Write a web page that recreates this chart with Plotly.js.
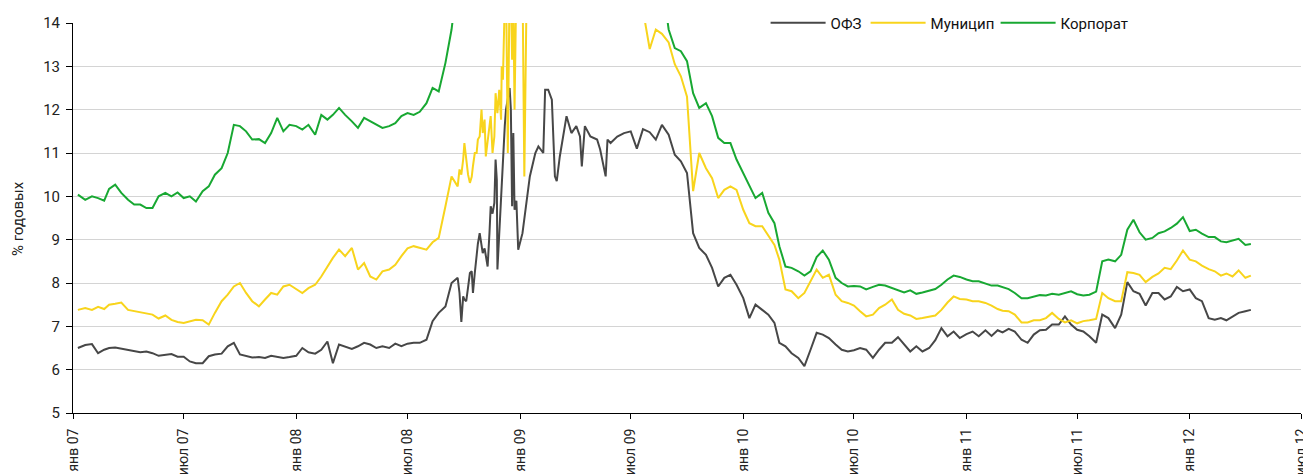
<!DOCTYPE html>
<html>
<head>
<meta charset="utf-8">
<script src="https://cdn.plot.ly/plotly-3.0.1.min.js"></script>
<style>html,body{margin:0;padding:0;background:#fff;}#chart{width:1303px;height:474px;}</style>
</head>
<body>
<div id="chart"></div>
<script>
// ---- dates (shared by all three series) ----
var dates = [
  // H1 2007
  "2007-01-09","2007-01-21","2007-02-01","2007-02-11","2007-02-21","2007-03-01","2007-03-11","2007-03-21",
  "2007-04-01","2007-04-11","2007-04-21","2007-05-01","2007-05-11","2007-05-21","2007-06-01","2007-06-11","2007-06-21",
  // H2 2007
  "2007-07-01","2007-07-11","2007-07-21","2007-08-01","2007-08-11","2007-08-21","2007-09-01","2007-09-11","2007-09-21",
  "2007-10-01","2007-10-11","2007-10-21","2007-11-01","2007-11-11","2007-11-21","2007-12-01","2007-12-11","2007-12-21",
  // H1 2008
  "2008-01-01","2008-01-11","2008-01-21","2008-02-01","2008-02-11","2008-02-21","2008-03-01","2008-03-11","2008-03-21",
  "2008-04-01","2008-04-11","2008-04-21","2008-05-01","2008-05-11","2008-05-21","2008-06-01","2008-06-11","2008-06-21",
  // Jul-Sep 2008
  "2008-07-01","2008-07-11","2008-07-21","2008-08-01","2008-08-11","2008-08-21","2008-09-01","2008-09-11",
  // crisis (dense)
  "2008-09-21","2008-09-24","2008-09-27","2008-09-30","2008-10-02","2008-10-05","2008-10-08","2008-10-11","2008-10-14",
  "2008-10-16","2008-10-19","2008-10-22","2008-10-24","2008-10-27","2008-10-30","2008-11-01","2008-11-04","2008-11-06",
  "2008-11-09","2008-11-12","2008-11-14","2008-11-17","2008-11-20","2008-11-22","2008-11-24","2008-11-25","2008-11-28",
  "2008-12-01","2008-12-02","2008-12-04","2008-12-07","2008-12-09","2008-12-12","2008-12-15","2008-12-17","2008-12-19",
  "2008-12-21","2008-12-23","2008-12-26","2008-12-29","2009-01-05","2009-01-08","2009-01-12","2009-01-17","2009-01-26",
  "2009-01-31","2009-02-08","2009-02-11","2009-02-16","2009-02-22","2009-02-27","2009-03-02","2009-03-07","2009-03-13",
  "2009-03-18","2009-03-26","2009-04-03","2009-04-09","2009-04-12","2009-04-17","2009-04-26","2009-05-07","2009-05-12",
  "2009-05-21","2009-05-24","2009-05-29","2009-06-09","2009-06-20",
  // H2 2009
  "2009-07-01","2009-07-11","2009-07-21","2009-08-01","2009-08-11","2009-08-21","2009-09-01","2009-09-11","2009-09-21",
  "2009-10-01","2009-10-11","2009-10-21","2009-11-01","2009-11-11","2009-11-21","2009-12-01","2009-12-11","2009-12-21",
  // H1 2010
  "2010-01-01","2010-01-11","2010-01-21","2010-02-01","2010-02-11","2010-02-21","2010-03-01","2010-03-11","2010-03-21",
  "2010-04-01","2010-04-11","2010-04-21","2010-05-01","2010-05-11","2010-05-21","2010-06-01","2010-06-11","2010-06-21",
  // H2 2010
  "2010-07-01","2010-07-11","2010-07-21","2010-08-01","2010-08-11","2010-08-21","2010-09-01","2010-09-11","2010-09-21",
  "2010-10-01","2010-10-11","2010-10-21","2010-11-01","2010-11-11","2010-11-21","2010-12-01","2010-12-11","2010-12-21",
  // H1 2011
  "2011-01-01","2011-01-11","2011-01-21","2011-02-01","2011-02-11","2011-02-21","2011-03-01","2011-03-11","2011-03-21",
  "2011-04-01","2011-04-11","2011-04-21","2011-05-01","2011-05-11","2011-05-21","2011-06-01","2011-06-11","2011-06-21",
  // H2 2011
  "2011-07-01","2011-07-11","2011-07-21","2011-08-01","2011-08-11","2011-08-21","2011-09-01","2011-09-11","2011-09-21",
  "2011-10-01","2011-10-11","2011-10-21","2011-11-01","2011-11-11","2011-11-21","2011-12-01","2011-12-11","2011-12-21",
  // 2012
  "2012-01-01","2012-01-11","2012-01-21","2012-02-01","2012-02-11","2012-02-21","2012-03-01","2012-03-11","2012-03-21",
  "2012-04-01","2012-04-10"
];

// ---- ОФЗ ----
var ofz = [
  6.50,6.57,6.59,6.38,6.46,6.50,6.51,6.48,6.46,6.42,6.40,6.42,6.38,6.32,6.34,6.36,6.30,
  6.30,6.19,6.15,6.15,6.31,6.35,6.37,6.54,6.62,6.35,6.31,6.28,6.29,6.27,6.32,6.29,6.27,6.29,
  6.32,6.50,6.40,6.37,6.46,6.65,6.15,6.58,6.54,6.48,6.54,6.62,6.58,6.50,6.54,6.50,6.60,6.54,
  6.60,6.62,6.62,6.69,7.12,7.31,7.46,8.00,
  8.12,7.77,7.10,7.69,7.62,7.58,7.90,8.23,8.27,
  7.77,8.23,8.69,8.90,9.15,8.92,8.69,8.80,8.60,
  8.38,9.15,9.77,9.60,9.85,10.85,10.38,8.31,9.15,
  10.23,10.50,10.92,11.62,12.00,12.30,12.50,12.00,9.77,
  11.46,9.69,9.90,8.77,9.15,9.50,9.92,10.46,11.00,
  11.15,11.00,12.46,12.46,12.23,10.46,10.35,10.92,11.46,
  11.85,11.46,11.62,11.38,10.69,11.62,11.38,11.31,11.08,
  10.46,11.31,11.23,11.38,11.46,
  11.50,11.10,11.55,11.48,11.31,11.65,11.42,10.96,10.81,10.54,9.15,8.81,8.65,8.35,7.92,8.12,8.19,7.96,
  7.65,7.19,7.50,7.38,7.27,7.08,6.62,6.54,6.38,6.27,6.08,6.46,6.85,6.81,6.73,6.58,6.46,6.42,
  6.45,6.50,6.46,6.27,6.46,6.62,6.62,6.75,6.58,6.42,6.54,6.42,6.50,6.68,6.96,6.77,6.88,6.73,
  6.82,6.88,6.77,6.91,6.78,6.91,6.86,6.94,6.88,6.69,6.62,6.81,6.91,6.92,7.04,7.04,7.23,7.04,
  6.92,6.88,6.77,6.62,7.27,7.19,6.96,7.27,8.02,7.81,7.75,7.48,7.77,7.77,7.62,7.69,7.91,7.81,
  7.85,7.65,7.58,7.19,7.15,7.19,7.14,7.23,7.31,7.35,7.38
];

// ---- Муницип ---- (null = not read / above the chart)
var mun = [
  7.38,7.42,7.38,7.45,7.40,7.50,7.52,7.55,7.38,7.35,7.32,7.30,7.27,7.18,7.25,7.15,7.10,
  7.08,7.12,7.15,7.14,7.04,7.31,7.58,7.73,7.92,8.00,7.77,7.58,7.46,7.62,7.77,7.73,7.92,7.96,
  7.85,7.77,7.88,7.96,8.15,8.38,8.58,8.77,8.62,8.81,8.31,8.46,8.15,8.08,8.27,8.31,8.42,8.62,
  8.80,8.85,8.81,8.77,8.94,9.04,9.77,10.46,
  10.23,10.62,10.50,10.85,11.23,10.90,10.50,10.31,10.45,
  10.70,11.00,11.00,11.31,11.38,12.00,11.46,11.77,10.92,
  11.23,11.62,11.85,11.00,11.38,12.38,12.00,11.92,12.46,
  11.77,13.00,12.69,14.50,15.00,11.00,15.00,14.80,13.15,
  14.60,12.00,15.00,15.00,15.00,10.46,15.00,null,null,
  null,null,null,null,null,null,null,null,null,
  null,null,null,null,null,null,null,null,null,
  null,null,null,null,null,
  null,15.00,14.30,13.40,13.85,13.75,13.55,13.05,12.77,12.30,10.12,11.00,10.65,10.42,9.96,10.15,10.23,10.15,
  9.69,9.38,9.31,9.31,9.08,8.88,8.54,7.85,7.81,7.65,7.77,8.04,8.31,8.12,8.19,7.73,7.58,7.54,
  7.48,7.35,7.23,7.27,7.42,7.50,7.62,7.38,7.29,7.25,7.17,7.19,7.23,7.25,7.38,7.55,7.69,7.63,
  7.62,7.58,7.58,7.54,7.48,7.40,7.36,7.35,7.27,7.09,7.09,7.14,7.14,7.19,7.31,7.17,7.09,7.14,
  7.07,7.12,7.14,7.17,7.77,7.65,7.58,7.58,8.25,8.23,8.19,8.02,8.14,8.22,8.35,8.32,8.52,8.75,
  8.54,8.50,8.40,8.32,8.27,8.17,8.22,8.15,8.29,8.12,8.17
];

// ---- Корпорат ----
var corp = [
  10.04,9.92,10.00,9.96,9.90,10.17,10.27,10.08,9.92,9.81,9.81,9.73,9.73,10.00,10.08,10.00,10.09,
  9.96,10.00,9.88,10.12,10.23,10.50,10.65,11.00,11.65,11.62,11.50,11.31,11.32,11.23,11.46,11.81,11.50,11.65,
  11.62,11.54,11.65,11.42,11.88,11.77,11.88,12.04,11.88,11.73,11.58,11.81,11.73,11.65,11.58,11.62,11.69,11.85,
  11.92,11.88,11.95,12.15,12.50,12.42,13.08,13.85,
  15.00,null,null,null,null,null,null,null,null,
  null,null,null,null,null,null,null,null,null,
  null,null,null,null,null,null,null,null,null,
  null,null,null,null,null,null,null,null,null,
  null,null,null,null,null,null,null,null,null,
  null,null,null,null,null,null,null,null,null,
  null,null,null,null,null,null,null,null,null,
  null,null,null,null,null,
  null,null,null,null,null,15.00,13.85,13.42,13.35,13.12,12.38,12.04,12.15,11.85,11.35,11.23,11.23,10.85,
  10.54,10.23,9.96,10.08,9.62,9.38,8.85,8.38,8.35,8.27,8.17,8.27,8.60,8.75,8.54,8.12,8.00,7.92,
  7.93,7.92,7.85,7.91,7.96,7.94,7.88,7.83,7.78,7.83,7.75,7.78,7.83,7.86,7.96,8.08,8.17,8.14,
  8.08,8.04,8.04,7.98,7.94,7.94,7.91,7.86,7.77,7.65,7.65,7.69,7.72,7.71,7.75,7.73,7.77,7.81,
  7.74,7.71,7.73,7.80,8.50,8.54,8.50,8.65,9.23,9.46,9.17,9.00,9.04,9.15,9.19,9.27,9.37,9.52,
  9.20,9.23,9.14,9.06,9.06,8.96,8.94,8.98,9.02,8.88,8.90
];

// ---- axis ticks / names ----
var tickDates = ["2007-01-01","2007-07-01","2008-01-01","2008-07-01","2009-01-01","2009-07-01",
                 "2010-01-01","2010-07-01","2011-01-01","2011-07-01","2012-01-01","2012-07-01"];
var tickLabels = ["янв 07","июл 07","янв 08","июл 08","янв 09","июл 09",
                  "янв 10","июл 10","янв 11","июл 11","янв 12","июл 12"];
var seriesNames = ["ОФЗ","Муницип","Корпорат"];
var seriesColors = ["#474747","#F8D41C","#18A832"];
var legendWidths = [30, 60, 68];

var FONT = "Roboto, 'Liberation Sans', sans-serif";

var traces = [ofz, mun, corp].map(function(vals, i){
  return {
    x: dates, y: vals, type: "scatter", mode: "lines",
    name: seriesNames[i], connectgaps: true, legendwidth: legendWidths[i],
    line: {color: seriesColors[i], width: 2}
  };
});

var layout = {
  width: 1303, height: 474,
  margin: {l: 73, r: 2, t: 23, b: 61},
  paper_bgcolor: "#fff", plot_bgcolor: "#fff",
  font: {family: FONT, size: 14, color: "#222"},
  showlegend: true,
  legend: {
    orientation: "h", x: 0.564, xanchor: "left", y: 1, yanchor: "middle",
    bgcolor: "#fff", font: {family: FONT, size: 15, color: "#111"},
    itemwidth: 55, traceorder: "normal"
  },
  xaxis: {
    type: "date", range: ["2007-01-01","2012-07-01"],
    tickmode: "array", tickvals: tickDates, ticktext: tickLabels,
    tickangle: -90, ticks: "outside", ticklen: 5, tickcolor: "#000", tickwidth: 1,
    ticklabelstandoff: 4,
    showline: true, linecolor: "#000", linewidth: 1,
    showgrid: false, zeroline: false,
    tickfont: {family: FONT, size: 14, color: "#222"},
    ticklabeloverflow: "allow", fixedrange: true
  },
  yaxis: {
    range: [5, 14], dtick: 1, tick0: 5,
    ticks: "outside", ticklen: 6, tickcolor: "#000", tickwidth: 1,
    ticklabelstandoff: 3,
    showline: true, linecolor: "#000", linewidth: 1,
    showgrid: true, gridcolor: "#d4d4d4", gridwidth: 1, zeroline: false,
    tickfont: {family: FONT, size: 15, color: "#222"},
    fixedrange: true
  },
  annotations: [{
    text: "% годовых", xref: "paper", yref: "paper",
    x: -0.0448, y: 0.5, xanchor: "center", yanchor: "middle",
    textangle: -90, showarrow: false,
    font: {family: FONT, size: 15, color: "#222"}
  }],
  hovermode: false
};

Plotly.newPlot("chart", traces, layout, {displayModeBar: false, staticPlot: true});
</script>
</body>
</html>
